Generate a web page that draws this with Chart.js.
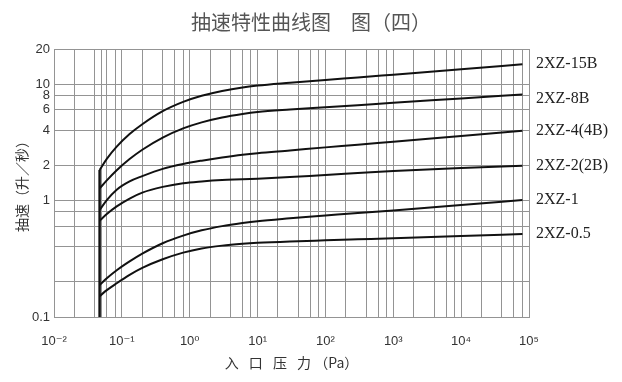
<!DOCTYPE html>
<html>
<head>
<meta charset="utf-8">
<script src="https://cdn.jsdelivr.net/npm/chart.js@4.4.0/dist/chart.umd.min.js"></script>
<style>
  html, body { margin: 0; padding: 0; background: #fff; }
</style>
</head>
<body>
<canvas id="chart" width="622" height="382"></canvas>
<script>
// inlet pressure (Pa), shared by every curve
const pressure = [0.047, 0.06, 0.084, 0.13, 0.2, 0.4, 0.8, 1.5, 3, 6, 10, 30, 100, 300, 1000, 10000, 80000];

// pumping speed (L/s) for each pump model
const speed15B = [1.83, 2.28, 2.9, 3.72, 4.52, 5.85, 7.03, 7.93, 8.73, 9.36, 9.7, 10.25, 10.85, 11.4, 12.05, 13.4, 14.8];
const speed8B  = [1.27, 1.49, 1.82, 2.27, 2.73, 3.47, 4.16, 4.69, 5.16, 5.53, 5.75, 6.04, 6.32, 6.59, 6.9, 7.53, 8.15];
const speed4B  = [0.83, 1.01, 1.24, 1.46, 1.62, 1.87, 2.06, 2.2, 2.34, 2.47, 2.55, 2.69, 2.86, 3.01, 3.2, 3.58, 3.97];
const speed2B  = [0.67, 0.766, 0.89, 1.04, 1.17, 1.31, 1.41, 1.46, 1.5, 1.52, 1.54, 1.59, 1.66, 1.72, 1.79, 1.9, 1.99];
const speed1   = [0.188, 0.215, 0.252, 0.3, 0.35, 0.43, 0.5, 0.555, 0.603, 0.641, 0.665, 0.703, 0.743, 0.782, 0.822, 0.914, 1.01];
const speed05  = [0.151, 0.17, 0.195, 0.23, 0.264, 0.313, 0.357, 0.388, 0.41, 0.425, 0.433, 0.445, 0.455, 0.464, 0.474, 0.495, 0.516];

const models = ["2XZ-15B", "2XZ-8B", "2XZ-4(4B)", "2XZ-2(2B)", "2XZ-1", "2XZ-0.5"];
const speeds = [speed15B, speed8B, speed4B, speed2B, speed1, speed05];

// vertical start edge shared by the curves
const edgePressure = [0.047, 0.047];
const edgeSpeed = [0.1, 1.83];

// grid lines and tick labels
const xGrid = [0.01, 0.02, 0.04, 0.05, 0.06, 0.08,
  0.1, 0.2, 0.4, 0.6, 0.8,
  1, 2, 4, 6, 8,
  10, 20, 40, 60, 80,
  100, 200, 400, 600, 800,
  1000, 2000, 4000, 6000, 8000,
  10000, 20000, 40000, 60000, 80000,
  100000];
const xDecades = [0.01, 0.1, 1, 10, 100, 1000, 10000, 100000];
const xTickLabels = ["10⁻²", "10⁻¹", "10⁰", "10¹", "10²", "10³", "10⁴", "10⁵"];

const yGrid = [0.1, 0.2, 0.4, 0.6, 0.8, 1, 2, 4, 6, 8, 10, 20];
const yLabeled = [0.1, 1, 2, 4, 6, 8, 10, 20];
const yTickLabels = ["0.1", "1", "2", "4", "6", "8", "10", "20"];

const gridColor = "#949494";

const datasets = speeds.map((s, i) => ({
  label: models[i],
  data: pressure.map((p, j) => ({ x: p, y: s[j] })),
  borderColor: "#111",
  borderWidth: 2,
  pointRadius: 0,
  fill: false,
  cubicInterpolationMode: "monotone"
}));
datasets.push({
  label: "edge",
  data: edgePressure.map((p, j) => ({ x: p, y: edgeSpeed[j] })),
  borderColor: "#111",
  borderWidth: 2.5,
  pointRadius: 0,
  fill: false
});

// model names at the right end of each curve
const labelNudge = [0, 4, 0, 0, 0, 0];
const endLabels = {
  id: "endLabels",
  afterDatasetsDraw(chart) {
    const ctx = chart.ctx;
    ctx.save();
    ctx.font = '16px "Liberation Serif"';
    ctx.fillStyle = "#222";
    ctx.textBaseline = "middle";
    models.forEach((name, i) => {
      const pts = chart.getDatasetMeta(i).data;
      const last = pts[pts.length - 1];
      ctx.fillText(name, chart.chartArea.right + 7, last.y + labelNudge[i]);
    });
    ctx.restore();
  }
};

const ctx = document.getElementById("chart").getContext("2d");
const chart = new Chart(ctx, {
  type: "line",
  data: { datasets: datasets },
  plugins: [endLabels],
  options: {
    responsive: false,
    animation: false,
    layout: { padding: 0 },
    plugins: {
      legend: { display: false },
      tooltip: { enabled: false },
      title: {
        display: true,
        text: "抽速特性曲线图　图（四）",
        color: "#555",
        font: { size: 20, family: '"Noto Sans CJK SC"', weight: "normal" },
        padding: { top: 10, bottom: 15 }
      }
    },
    scales: {
      x: {
        type: "logarithmic",
        min: 0.01,
        max: 100000,
        afterBuildTicks: s => { s.ticks = xGrid.map(v => ({ value: v })); },
        afterFit: s => { s.height = 65; },
        grid: { color: gridColor, drawTicks: false },
        border: { color: gridColor },
        ticks: {
          autoSkip: false,
          maxRotation: 0,
          padding: 17,
          color: "#333",
          font: { size: 13, family: '"Liberation Sans", "DejaVu Sans"' },
          callback: v => {
            const i = xDecades.indexOf(v);
            return i >= 0 ? xTickLabels[i] : "";
          }
        },
        title: {
          display: true,
          text: "入\u2002 口\u2002 压\u2002 力 （Pa）",
          color: "#333",
          font: { size: 14, family: '"Noto Sans CJK SC"' },
          padding: { bottom: 11 }
        }
      },
      y: {
        type: "logarithmic",
        min: 0.1,
        max: 20,
        afterBuildTicks: s => { s.ticks = yGrid.map(v => ({ value: v })); },
        afterFit: s => { s.width = 54; },
        grid: { color: gridColor, drawTicks: false },
        border: { color: gridColor },
        ticks: {
          autoSkip: false,
          padding: 4,
          color: "#333",
          font: { size: 13, family: '"Liberation Sans", "DejaVu Sans"' },
          callback: v => {
            const i = yLabeled.indexOf(v);
            return i >= 0 ? yTickLabels[i] : "";
          }
        },
        title: {
          display: true,
          text: "抽速（升／秒）",
          color: "#333",
          font: { size: 14, family: '"Noto Sans CJK SC"' },
          padding: { top: 13 }
        }
      },
      // empty right-hand strip that holds the model names
      side: {
        type: "linear",
        position: "right",
        afterFit: s => { s.width = 93; },
        grid: { display: false, drawTicks: false },
        border: { display: false },
        ticks: { display: false }
      }
    }
  }
});
</script>
</body>
</html>
